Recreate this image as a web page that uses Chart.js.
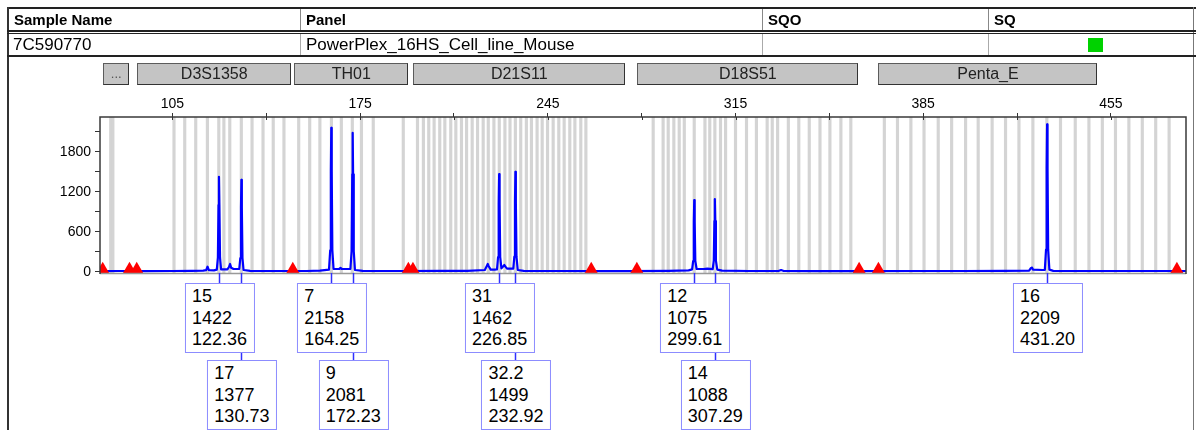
<!DOCTYPE html>
<html><head><meta charset="utf-8">
<script src="https://cdn.jsdelivr.net/npm/chart.js@4.4.1/dist/chart.umd.min.js"></script>
<style>
html,body{margin:0;padding:0;background:#fff;width:1196px;height:430px;overflow:hidden;font-family:Arial,"Liberation Sans",sans-serif;}
#wrap{position:relative;width:1196px;height:430px;overflow:hidden;}
#c{position:absolute;left:0;top:0;}
.ln{position:absolute;}
.ht{position:absolute;font-weight:bold;font-size:15px;color:#000;white-space:nowrap;line-height:18px;}
.rt{position:absolute;font-size:17px;color:#000;white-space:nowrap;line-height:20px;}
.mk{position:absolute;top:63px;height:20px;background:#c4c4c4;border:1px solid #5c5c5c;border-right-color:#333;border-bottom-color:#333;font-size:16px;line-height:20px;text-align:center;color:#222;white-space:nowrap;overflow:hidden;}
.pk{position:absolute;transform:translateX(-50%);background:#fff;border:1.5px solid #8c8cff;font-size:18px;line-height:21.5px;padding:2px 7px 1px 6px;color:#000;white-space:nowrap;z-index:3;}
#ov{position:absolute;left:0;top:0;width:1196px;height:430px;}
</style>
</head><body>
<div id="wrap">
  <canvas id="c" width="1196" height="430"></canvas>
  <div class="ln" style="left:7px;top:7px;width:1189px;height:2px;background:#222"></div>
  <div class="ln" style="left:7px;top:7px;width:2px;height:423px;background:#333"></div>
  <div class="ln" style="left:1193px;top:7px;width:1px;height:423px;background:#777"></div>
  <div class="ln" style="left:300px;top:9px;width:1px;height:22px;background:#888"></div>
  <div class="ln" style="left:762px;top:9px;width:1px;height:22px;background:#888"></div>
  <div class="ln" style="left:988px;top:9px;width:1px;height:22px;background:#888"></div>
  <div class="ln" style="left:7px;top:30px;width:1189px;height:2px;background:#222"></div>
  <div class="ln" style="left:7px;top:33px;width:1189px;height:1px;background:#222"></div>
  <div class="ln" style="left:300px;top:34px;width:1px;height:21px;background:#aaa"></div>
  <div class="ln" style="left:762px;top:34px;width:1px;height:21px;background:#aaa"></div>
  <div class="ln" style="left:988px;top:34px;width:1px;height:21px;background:#aaa"></div>
  <div class="ln" style="left:7px;top:55px;width:1189px;height:2px;background:#222"></div>
  <div class="ht" style="left:14px;top:11px">Sample Name</div>
  <div class="ht" style="left:306px;top:11px">Panel</div>
  <div class="ht" style="left:768px;top:11px">SQO</div>
  <div class="ht" style="left:994px;top:11px">SQ</div>
  <div class="rt" style="left:13px;top:35px">7C590770</div>
  <div class="rt" style="left:306px;top:35px">PowerPlex_16HS_Cell_line_Mouse</div>
  <div class="ln" style="left:1088px;top:38px;width:15px;height:14px;background:#00d200"></div>
  <div id="ov"></div>
</div>
<script>
// ---------- data ----------
const xTickValues = [105,140,175,210,245,280,315,350,385,420,455];
const xTickLabels = [105,175,245,315,385,455];
const yTickValues = [0,300,600,900,1200,1500,1800,2100];
const yTickLabels = [0,600,1200,1800];

const markerNames = ['...','D3S1358','TH01','D21S11','D18S51','Penta_E'];
const markerStart = [79.2, 91.9, 150.4, 194.8, 278.4, 368.3];
const markerEnd   = [88.9, 149.3, 193.0, 273.9, 360.8, 450.0];

const binSizes = [82.0,82.8,105.6,109.6,113.7,118.05,122.3,124.2,126.4,130.7,134.7,138.8,142.6,146.6,
  152.1,156.2,160.0,164.3,168.0,172.1,175.5,179.9,
  191.1,196.4,198.6,200.6,202.6,204.7,206.6,208.8,210.7,212.8,214.7,216.8,218.8,220.9,222.8,224.9,226.9,
  229.0,230.9,232.9,234.9,237.0,238.9,241.0,242.9,244.9,247.0,249.1,251.1,253.2,255.1,257.3,259.2,
  284.3,288.0,289.9,292.0,294.0,295.9,299.6,303.6,305.4,307.3,309.4,311.3,315.0,319.1,322.8,326.8,328.7,
  330.7,334.7,338.6,342.5,346.5,350.2,354.3,358.0,
  370.5,375.4,380.4,385.3,390.6,395.6,400.8,405.5,410.7,415.7,420.7,425.9,431.1,436.2,441.7,446.8,451.8,
  456.7,461.7,466.7,471.7,476.7];

const markSizes = [79.0, 89.0, 91.7, 149.9, 193.0, 194.7, 261.2, 278.2, 361.1, 368.3, 479.6];
const markRfu   = [36, 36, 36, 36, 36, 36, 36, 36, 36, 36, 36];

const peakAlleles = ['15','17','7','9','31','32.2','12','14','16'];
const peakHeights = [1422,1377,2158,2081,1462,1499,1075,1088,2209];
const peakSizes   = [122.36,130.73,164.25,172.23,226.85,232.92,299.61,307.29,431.20];
const peakLoci    = ['D3S1358','D3S1358','TH01','TH01','D21S11','D21S11','D18S51','D18S51','Penta_E'];

const traceBp = [78, 85, 95, 105, 112, 116.5, 117.6, 118.1, 118.6, 120.5,
  121.56, 121.96, 122.2, 122.36, 122.52, 122.76, 123.16,
  125.5, 126.1, 126.5, 126.9, 127.8,
  129.93, 130.33, 130.57, 130.73, 130.89, 131.13, 131.53,
  134, 145, 155, 160,
  163.4, 163.85, 164.09, 164.25, 164.41, 164.65, 165.1,
  167.2, 167.7, 168.2,
  171.38, 171.83, 172.07, 172.23, 172.39, 172.63, 173.08,
  176, 190, 205, 215, 221.5, 222.3, 222.6, 222.9, 223.7, 225.5,
  226.05, 226.45, 226.69, 226.85, 227.01, 227.25, 227.7,
  228.4, 228.8, 229.2, 229.8, 231.8,
  232.12, 232.52, 232.76, 232.92, 233.08, 233.32, 233.8,
  236, 250, 262, 275, 290, 297.5,
  298.81, 299.21, 299.45, 299.61, 299.77, 300.01, 300.5,
  303, 304.5,
  306.49, 306.89, 307.13, 307.29, 307.45, 307.69, 308.2,
  310, 320, 331, 332, 333, 345, 360, 380, 400, 415, 424.5, 425.2, 425.6, 426.0, 429.5,
  430.35, 430.8, 431.04, 431.2, 431.36, 431.6, 432.05,
  433.5, 450, 470, 483];
const traceRfu = [8, 10, 8, 10, 12, 15, 22, 75, 22, 20,
  30, 210, 1000, 1422, 1000, 210, 35,
  35, 70, 115, 60, 40,
  40, 205, 965, 1377, 965, 205, 25,
  12, 10, 10, 15,
  30, 320, 1510, 2158, 1510, 320, 40,
  40, 55, 40,
  40, 310, 1460, 2081, 1460, 310, 25,
  12, 10, 12, 12, 25, 90, 115, 85, 30, 32,
  35, 220, 1020, 1462, 1020, 220, 50,
  80, 100, 75, 45, 45,
  45, 225, 1050, 1499, 1050, 225, 25,
  12, 10, 8, 8, 12, 20,
  35, 160, 750, 1075, 750, 160, 40,
  40, 45,
  38, 165, 760, 1088, 760, 165, 30,
  15, 10, 10, 25, 10, 8, 8, 10, 10, 12, 15, 55, 60, 30, 25,
  25, 330, 1550, 2209, 1550, 330, 30,
  12, 10, 10, 10];

// ---------- helpers ----------
function peakRows(){
  const cnt = {}; return peakLoci.map(l => { const r = cnt[l] || 0; cnt[l] = r + 1; return r; });
}

const framePlugin = {
  id: 'frame',
  afterDatasetsDraw(chart){
    const a = chart.chartArea, ctx = chart.ctx, xs = chart.scales.x;
    ctx.save();
    ctx.strokeStyle = '#999'; ctx.lineWidth = 1.5;
    ctx.beginPath(); ctx.moveTo(a.left, a.bottom+0.5); ctx.lineTo(a.right, a.bottom+0.5); ctx.stroke();
    ctx.strokeStyle = '#3a3a3a'; ctx.lineWidth = 1.5;
    ctx.beginPath();
    ctx.moveTo(a.left, a.bottom+1); ctx.lineTo(a.left, a.top); ctx.lineTo(a.right, a.top); ctx.lineTo(a.right, a.bottom+1);
    ctx.stroke();
    ctx.strokeStyle = '#333'; ctx.lineWidth = 1;
    xTickValues.forEach(v => {
      const x = Math.round(xs.getPixelForValue(v)) + 0.5;
      ctx.beginPath(); ctx.moveTo(x, a.top); ctx.lineTo(x, a.top + 3); ctx.stroke();
    });
    ctx.restore();
  },
  afterDraw(chart){
    const a = chart.chartArea, ctx = chart.ctx, xs = chart.scales.x;
    const rows = peakRows();
    ctx.save();
    ctx.strokeStyle = '#3030ff'; ctx.lineWidth = 1.5;
    peakSizes.forEach((s,i) => {
      const x = Math.round(xs.getPixelForValue(s)) + 0.5;
      const endY = a.bottom + (rows[i] === 0 ? 10 : 87);
      ctx.beginPath(); ctx.moveTo(x, a.bottom); ctx.lineTo(x, endY); ctx.stroke();
    });
    ctx.restore();
  },
  afterRender(chart){
    if (chart.$ovDone) return; chart.$ovDone = true;
    const xs = chart.scales.x, a = chart.chartArea;
    const layer = document.getElementById('ov');
    markerNames.forEach((n,i) => {
      const l = xs.getPixelForValue(markerStart[i]), r = xs.getPixelForValue(markerEnd[i]);
      const d = document.createElement('div');
      d.className = 'mk';
      d.style.left = l + 'px'; d.style.width = (r - l - 2) + 'px';
      d.textContent = n;
      if (n === '...') { d.style.fontSize = '13px'; d.style.color = '#555'; }
      layer.appendChild(d);
    });
    const rows = peakRows();
    peakSizes.forEach((s,i) => {
      const d = document.createElement('div');
      d.className = 'pk';
      d.style.left = (xs.getPixelForValue(s) + 1) + 'px';
      d.style.top = (a.bottom + (rows[i] === 0 ? 10 : 87)) + 'px';
      d.innerHTML = peakAlleles[i] + '<br>' + peakHeights[i] + '<br>' + s.toFixed(2);
      layer.appendChild(d);
    });
  }
};

const binData = binSizes.map(b => ({x: b, y: [-200, 3000]}));
const traceData = traceBp.map((b,i) => ({x: b, y: traceRfu[i]}));
const markData = markSizes.map((b,i) => ({x: b, y: markRfu[i]}));

new Chart(document.getElementById('c'), {
  data: {
    datasets: [
      { type: 'bar', label: 'bins', data: binData, backgroundColor: '#d4d4d4', barThickness: 2.5, grouped: false, order: 3 },
      { type: 'line', label: 'blue', data: traceData, borderColor: '#0000ff', borderWidth: 2.2, pointRadius: 0, tension: 0, fill: false, borderJoinStyle: 'round', order: 2 },
      { type: 'scatter', label: 'marks', data: markData, pointStyle: 'triangle', pointRadius: 7.5, backgroundColor: '#ff0000', borderWidth: 0, order: 1 }
    ]
  },
  options: {
    responsive: false,
    animation: false,
    events: [],
    layout: { padding: { left: 0, top: 87, right: 10, bottom: 157 } },
    plugins: { legend: { display: false }, tooltip: { enabled: false } },
    scales: {
      x: {
        type: 'linear', position: 'top', min: 78, max: 483, offset: false,
        afterFit: s => { s.height = 30; },
        afterBuildTicks: s => { s.ticks = xTickValues.map(v => ({value: v})); },
        ticks: { autoSkip: false, maxRotation: 0, padding: 0, color: '#000',
          font: { family: 'Arial, "Liberation Sans"', size: 14 },
          callback: v => xTickLabels.includes(v) ? String(v) : '' },
        grid: { drawOnChartArea: false, drawTicks: true, tickLength: 4, color: '#333', lineWidth: 1, offset: false },
        border: { display: false }
      },
      y: {
        type: 'linear', min: -20, max: 2320,
        afterFit: s => { s.width = 100; },
        afterBuildTicks: s => { s.ticks = yTickValues.map(v => ({value: v})); },
        ticks: { autoSkip: false, padding: 4, color: '#000',
          font: { family: 'Arial, "Liberation Sans"', size: 14 },
          callback: v => yTickLabels.includes(v) ? String(v) : '' },
        grid: { drawOnChartArea: false, drawTicks: true, tickLength: 5, color: '#333', lineWidth: 1 },
        border: { display: false }
      }
    }
  },
  plugins: [framePlugin]
});
</script>
</body></html>
